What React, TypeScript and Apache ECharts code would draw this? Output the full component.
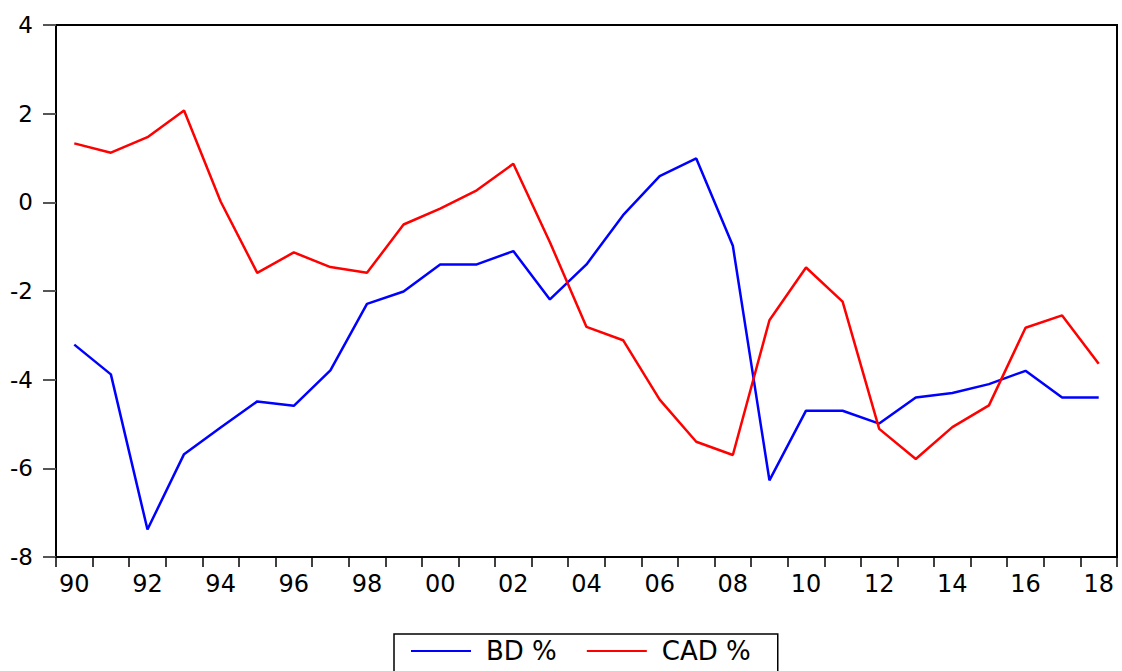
import React, { useEffect, useRef } from "react";
import * as echarts from "echarts";

// Annual observations, 1990–2018
const years = [
  "1990", "1991", "1992", "1993", "1994", "1995", "1996", "1997", "1998", "1999",
  "2000", "2001", "2002", "2003", "2004", "2005", "2006", "2007", "2008", "2009",
  "2010", "2011", "2012", "2013", "2014", "2015", "2016", "2017", "2018",
];

// Budget deficit, % of GDP
const bdPct = [
  -3.21, -3.88, -7.38, -5.68, -5.08, -4.49, -4.59, -3.79, -2.29, -2.01,
  -1.4, -1.4, -1.1, -2.19, -1.4, -0.29, 0.59, 0.99, -0.98, -6.27,
  -4.7, -4.7, -4.99, -4.4, -4.3, -4.1, -3.8, -4.4, -4.4,
];

// Current account deficit, % of GDP
const cadPct = [
  1.33, 1.12, 1.47, 2.07, 0.02, -1.59, -1.13, -1.46, -1.59, -0.5,
  -0.14, 0.27, 0.87, -0.9, -2.81, -3.11, -4.45, -5.4, -5.7, -2.66,
  -1.47, -2.24, -5.11, -5.79, -5.07, -4.58, -2.83, -2.55, -3.64,
];

const yTicks = { min: -8, max: 4, step: 2 };

const FONT = "DejaVu Sans";

export default function App() {
  const ref = useRef<HTMLDivElement>(null);

  useEffect(() => {
    if (!ref.current) return;
    const chart = echarts.init(ref.current, undefined, { renderer: "svg" });
    chart.setOption({
      animation: false,
      backgroundColor: "#ffffff",
      grid: {
        left: 56,
        right: 5,
        top: 25,
        bottom: 114,
        show: true,
        borderColor: "#000",
        borderWidth: 2,
        backgroundColor: "transparent",
      },
      legend: {
        left: 394,
        top: 634,
        orient: "horizontal",
        data: ["BD %", "CAD %"],
        icon: "rect",
        itemWidth: 60,
        itemHeight: 2,
        itemGap: 30,
        borderColor: "#000",
        borderWidth: 1.5,
        borderRadius: 0,
        padding: [4, 27, 40, 17],
        selectedMode: false,
        textStyle: {
          fontFamily: FONT,
          fontSize: 26,
          color: "#000",
          padding: [0, 0, 10, 10],
        },
      },
      xAxis: {
        type: "category",
        data: years,
        boundaryGap: true,
        axisLine: { onZero: false, lineStyle: { color: "#000", width: 2 } },
        axisTick: {
          show: true,
          interval: 0,
          alignWithLabel: false,
          length: 10,
          lineStyle: { color: "#000", width: 1.5 },
        },
        axisLabel: {
          interval: 1,
          formatter: (v: string) => v.slice(2),
          fontFamily: FONT,
          fontSize: 24,
          color: "#000",
          margin: 15,
        },
        splitLine: { show: false },
      },
      yAxis: {
        type: "value",
        min: yTicks.min,
        max: yTicks.max,
        interval: yTicks.step,
        axisLine: { show: true, lineStyle: { color: "#000", width: 2 } },
        axisTick: { show: true, length: 13, lineStyle: { color: "#555", width: 2 } },
        axisLabel: {
          fontFamily: FONT,
          fontSize: 23,
          color: "#000",
          margin: 23,
          padding: [0, 0, 10, 0],
        },
        splitLine: { show: false },
      },
      series: [
        {
          name: "BD %",
          type: "line",
          data: bdPct,
          symbol: "none",
          showSymbol: false,
          lineStyle: { color: "#0000ff", width: 2.5 },
          itemStyle: { color: "#0000ff" },
        },
        {
          name: "CAD %",
          type: "line",
          data: cadPct,
          symbol: "none",
          showSymbol: false,
          lineStyle: { color: "#ff0000", width: 2.5 },
          itemStyle: { color: "#ff0000" },
        },
      ],
    });
    return () => chart.dispose();
  }, []);

  return (
    <div
      ref={ref}
      style={{ position: "fixed", left: 0, top: 0, width: 1122, height: 671, background: "#fff" }}
    />
  );
}
